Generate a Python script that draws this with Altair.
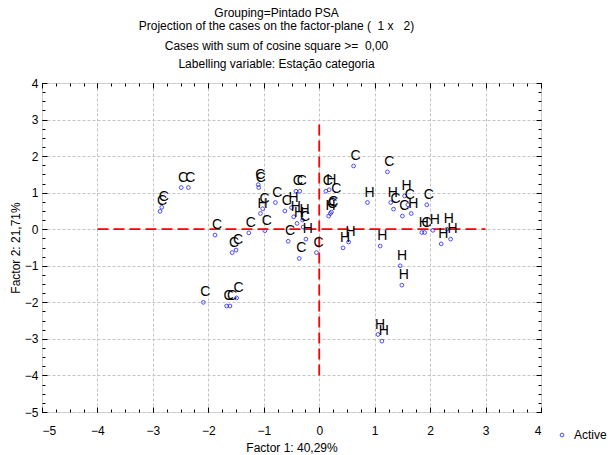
import altair as alt
import pandas as pd

# Factor coordinates
factor1 = [-2.87, -2.84, -2.49, -2.36, -1.88, -1.57, -1.50, -2.09, -1.67, -1.61,
           -1.49, -1.27, -1.10, -1.09, -1.02, -1.06, -0.98, -0.79, -0.62, -0.42,
           -0.35, -0.50, -0.46, -0.40, -0.30, -0.29, -0.24, -0.56, -0.36, -0.05,
           0.12, 0.18, 0.27, 0.17, 0.20, 0.22, 0.62, 1.23, 0.87, 1.29,
           1.34, 1.54, 1.60, 1.50, 1.66, 1.94, 1.85, 1.90, 2.05, 2.30,
           2.37, 2.20, 0.53, 0.43, 1.10, 1.46, 1.49, 1.06, 1.13]
factor2 = [0.49, 0.60, 1.14, 1.14, -0.16, -0.64, -0.57, -2.00, -2.10, -2.10,
           -1.88, -0.10, 1.22, 1.14, 0.56, 0.43, -0.04, 0.73, 0.50, 1.04,
           1.04, 0.59, 0.34, 0.16, 0.25, 0.06, -0.27, -0.33, -0.80, -0.64,
           1.04, 1.08, 0.84, 0.36, 0.43, 0.47, 1.73, 1.57, 0.73, 0.73,
           0.55, 0.91, 0.67, 0.36, 0.43, 0.67, -0.09, -0.09, -0.03, 0.00,
           -0.27, -0.40, -0.35, -0.51, -0.46, -1.00, -1.53, -2.88, -3.06]
labels = ["C", "C", "C", "C", "C", "C", "C", "C", "C", "C",
          "C", "C", "C", "C", "C", "H", "C", "C", "C", "C",
          "C", "H", "H", "H", "H", "C", "H", "C", "C", "C",
          "C", "H", "C", "H", "C", "C", "C", "C", "H", "H",
          "C", "H", "C", "C", "H", "C", "H", "C", "H", "H",
          "H", "H", "H", "H", "H", "H", "H", "H", "H"]
status = ["Active"] * len(factor1)

# reference lines (dashed red cross)
hline_x = [-4]
hline_x2 = [3]
hline_y = [0]
vline_x = [0]
vline_y = [-4]
vline_y2 = [3]

major_ticks = list(range(-5, 5))
minor_ticks = [v / 4 for v in range(-20, 17)]

df = pd.DataFrame({"f1": factor1, "f2": factor2, "lab": labels, "status": status})
hdf = pd.DataFrame({"x": hline_x, "x2": hline_x2, "y": hline_y})
vdf = pd.DataFrame({"x": vline_x, "y": vline_y, "y2": vline_y2})

FONT = "Liberation Sans"
xscale = alt.Scale(domain=[-5, 4], nice=False, zero=False)
yscale = alt.Scale(domain=[-5, 4], nice=False, zero=False)

GRID = dict(grid=True, gridColor="#c4c4c4", gridDash=[3, 2], gridWidth=1)

x_main = alt.Axis(orient="bottom", values=major_ticks, domain=False, tickSize=5, offset=-5,
                  tickColor="black", labelPadding=13, labelFontSize=12, labelFont=FONT,
                  labelColor="black", title="Factor 1: 40,29%", titleFont=FONT,
                  titleFontSize=12, titleFontWeight="normal", titleColor="black",
                  titlePadding=6, **GRID)
y_main = alt.Axis(orient="left", values=major_ticks, domain=False, tickSize=5, offset=-5,
                  tickColor="black", labelPadding=4, labelFontSize=12, labelFont=FONT,
                  labelColor="black", title="Factor 2: 21,71%", titleFont=FONT,
                  titleFontSize=12, titleFontWeight="normal", titleColor="black",
                  titlePadding=2, **GRID)


def tick_axis(orient, vals, size):
    return alt.Axis(orient=orient, values=vals, domain=False, grid=False, labels=False,
                    tickSize=size, offset=-size, tickColor="black", title=None)


points = alt.Chart(df).mark_point(shape="circle", filled=False, size=14, strokeWidth=1).encode(
    x=alt.X("f1:Q", scale=xscale, axis=x_main),
    y=alt.Y("f2:Q", scale=yscale, axis=y_main),
    color=alt.Color("status:N", scale=alt.Scale(range=["#0000ff"]),
                    legend=alt.Legend(title=None, orient="none", legendX=514, legendY=346,
                                      labelFont=FONT, labelFontSize=12, labelColor="black",
                                      symbolSize=14, symbolStrokeWidth=1, labelOffset=6,
                                      padding=0)),
)

text = alt.Chart(df).mark_text(font=FONT, fontSize=14, color="black", dx=2, dy=-10,
                               align="center", baseline="middle").encode(
    x=alt.X("f1:Q", scale=xscale, axis=tick_axis("bottom", minor_ticks, 3)),
    y=alt.Y("f2:Q", scale=yscale, axis=tick_axis("left", minor_ticks, 3)),
    text="lab:N",
)

hline = alt.Chart(hdf).mark_rule(color="#ff0000", strokeDash=[11, 5], strokeWidth=1.8).encode(
    x=alt.X("x:Q", scale=xscale, axis=tick_axis("top", major_ticks, 5)),
    x2="x2:Q",
    y=alt.Y("y:Q", scale=yscale, axis=tick_axis("right", major_ticks, 5)),
)

vline = alt.Chart(vdf).mark_rule(color="#ff0000", strokeDash=[11, 5], strokeWidth=1.8).encode(
    x=alt.X("x:Q", scale=xscale, axis=tick_axis("top", minor_ticks, 3)),
    y=alt.Y("y:Q", scale=yscale, axis=tick_axis("right", minor_ticks, 3)),
    y2="y2:Q",
)

chart = alt.layer(points, hline, vline, text).resolve_axis(
    x="independent", y="independent"
).properties(
    width=499,
    height=329,
    autosize=alt.AutoSizeParams(type="none"),
    padding={"left": 42, "top": 83, "right": 70, "bottom": 43},
    title=alt.TitleParams(
        text=["Grouping=Pintado PSA",
              "Projection of the cases on the factor-plane ( \u00a01 x \u00a0 2)"],
        subtitle=["Cases with sum of cosine square >= \u00a00,00",
                  "Labelling variable: Estação categoria"],
        font=FONT, fontSize=12, fontWeight="normal", color="black", lineHeight=13,
        subtitleFont=FONT, subtitleFontSize=12, subtitleColor="black",
        subtitleLineHeight=18, subtitlePadding=8, anchor="middle", dx=-15, offset=6,
    ),
).configure_view(stroke="black", strokeWidth=1.2).configure(background="white")

chart.save("out.html", embed_options={"renderer": "svg", "actions": False})
